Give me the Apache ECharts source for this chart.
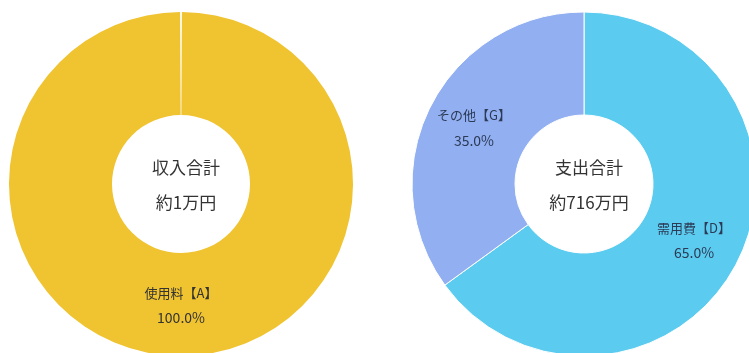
<!DOCTYPE html>
<html>
<head>
<meta charset="utf-8">
<script src="https://cdn.jsdelivr.net/npm/echarts@6/dist/echarts.min.js"></script>
<style>
html,body{margin:0;padding:0;background:#fff;}
#chart{width:749px;height:353px;}
</style>
</head>
<body>
<div id="chart"></div>
<script>
// Income (収入) donut
const incomeCategories = ['使用料【A】'];
const incomeValues = [100.0];
const incomeCenterText = ['収入合計', '約1万円'];

// Expense (支出) donut
const expenseCategories = ['需用費【D】', 'その他【G】'];
const expenseValues = [65.0, 35.0];
const expenseCenterText = ['支出合計', '約716万円'];

const FONT = '"Noto Sans CJK JP", "Noto Sans", sans-serif';

function pct(p) { return p.percent.toFixed(1) + '%'; }

const chart = echarts.init(document.getElementById('chart'), null, { renderer: 'canvas' });

function labelCfg(color, offsetY) {
  return {
    show: true,
    position: 'inside',
    offset: [0, offsetY],
    formatter: function (p) { return '{n|' + p.name + '}\n{p|' + pct(p) + '}'; },
    rich: {
      n: { fontFamily: FONT, fontSize: 13, color: color, lineHeight: 25 },
      p: { fontFamily: FONT, fontSize: 14, color: color, lineHeight: 25 }
    }
  };
}

const option = {
  backgroundColor: '#ffffff',
  animation: false,
  title: [
    {
      text: incomeCenterText.join('\n'),
      left: 181, top: 145, textAlign: 'center',
      textStyle: { fontFamily: FONT, fontSize: 17, fontWeight: 'normal', color: '#333', lineHeight: 35 }
    },
    {
      text: expenseCenterText.join('\n'),
      left: 584, top: 145, textAlign: 'center',
      textStyle: { fontFamily: FONT, fontSize: 17, fontWeight: 'normal', color: '#333', lineHeight: 35 }
    }
  ],
  series: [
    {
      type: 'pie',
      center: [181, 184],
      radius: [69, 172],
      startAngle: 90,
      clockwise: true,
      padAngle: 0.6,
      silent: true,
      itemStyle: { color: '#F0C331' },
      label: labelCfg('#333', -2),
      labelLine: { show: false },
      data: incomeCategories.map((n, i) => ({ name: n, value: incomeValues[i] }))
    },
    {
      type: 'pie',
      center: [584, 184],
      radius: [69, 172],
      startAngle: 90,
      clockwise: true,
      silent: true,
      itemStyle: { borderColor: '#ffffff', borderWidth: 1 },
      label: labelCfg('#2c3a55', 0),
      labelLine: { show: false },
      color: ['#5BCCF0', '#91AFF1'],
      data: expenseCategories.map((n, i) => ({ name: n, value: expenseValues[i] }))
    }
  ]
};
chart.setOption(option);
</script>
</body>
</html>
